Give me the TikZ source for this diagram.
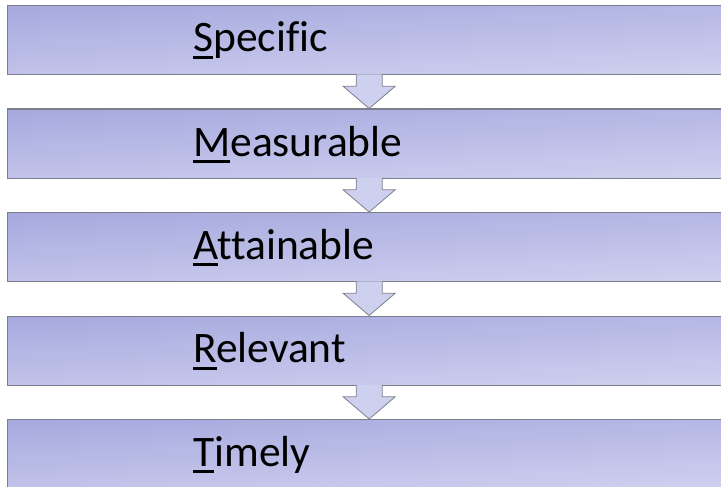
\documentclass[tikz,border=0pt]{standalone}
\usepackage{fontspec}
\setmainfont[Ligatures=NoCommon]{Carlito}
\usetikzlibrary{calc}
\definecolor{boxtop}{RGB}{168,170,223}
\definecolor{boxbot}{RGB}{206,208,239}
\definecolor{edgegray}{RGB}{125,126,140}
\definecolor{arrowfill}{RGB}{206,208,240}
\newcommand{\initial}[1]{\setbox0\hbox{#1}\rlap{\rule[-7pt]{\wd0}{2.6pt}}#1}

\begin{document}
\begin{tikzpicture}[
  x=1pt, y=-1pt,
  box/.style={draw=edgegray, line width=1.3pt, top color=boxtop, bottom color=boxbot,
    shading angle=3, minimum width=723pt, minimum height=69pt, inner sep=0pt,
    anchor=north west},
  lbl/.style={anchor=base west, inner sep=0pt, font=\fontsize{43.5}{50}\selectfont},
  flow/.style={draw=edgegray, line width=0.8pt, fill=arrowfill, line join=miter}
]
\useasboundingbox (0,0) rectangle (721,487);

\node[box] (spec) at (7, 5) {};
\node[box] (meas) at (7, 108.5) {};
\node[box] (att)  at (7, 212) {};
\node[box] (rel)  at (7, 315.5) {};
\node[box] (tim)  at (7, 419) {};

% arrows between the boxes
\foreach \a/\b in {spec/meas, meas/att, att/rel, rel/tim} {
  \path[flow] ($(\a.south)+(-13,-1)$) -- ++(0,12) -- ++(-13,0) -- (\b.north)
    -- ($(\a.south)+(26,11)$) -- ++(-13,0) -- ++(0,-12);
}

\node[lbl] (tspec) at ($(spec.north west)+(186,47)$) {\initial{S}pecific};
\node[lbl] (tmeas) at ($(meas.north west)+(186,47.5)$) {\initial{M}easurable};
\node[lbl] (tatt)  at ($(att.north west)+(186,47)$) {\initial{A}ttainable};
\node[lbl] (trel)  at ($(rel.north west)+(186,47)$) {\initial{R}elevant};
\node[lbl] (ttim)  at ($(tim.north west)+(186,47)$) {\initial{T}imely};

\end{tikzpicture}
\end{document}
